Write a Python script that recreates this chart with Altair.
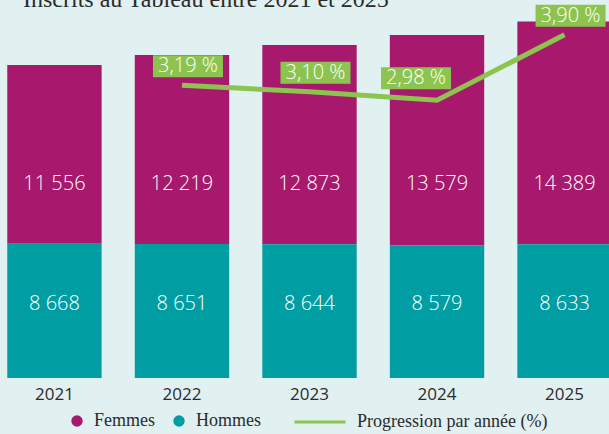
import altair as alt
import pandas as pd

# ---- data ----
years = ["2021", "2022", "2023", "2024", "2025"]
femmes = [11556, 12219, 12873, 13579, 14389]
hommes = [8668, 8651, 8644, 8579, 8633]
prog_years = ["2022", "2023", "2024", "2025"]
progression = [3.19, 3.10, 2.98, 3.90]
series = ["Femmes", "Hommes"]
line_name = "Progression par année (%)"
title_text = "Inscrits au Tableau entre 2021 et 2025"

# ---- style ----
MAGENTA = "#A6196C"
TEAL = "#009DA3"
GREEN = "#8CC44F"
BG = "#E1F0F0"
INK = "#2B2B2B"
SERIF = "Liberation Serif"
SANS = "Open Sans"
FEM_ROW = 12532   # label row (data units) for Femmes values
HOM_ROW = 4780    # label row (data units) for Hommes values

bars_df = pd.DataFrame({
    "year": years * 2,
    "genre": ["Femmes"] * len(years) + ["Hommes"] * len(years),
    "value": femmes + hommes,
    "ord": [1] * len(years) + [0] * len(years),
})
line_df = pd.DataFrame({"year": prog_years, "pct": progression, "serie": line_name})

x_enc = alt.X(
    "year:N",
    scale=alt.Scale(domain=years, range=[0, 619], paddingInner=0.26, paddingOuter=0.057),
    axis=alt.Axis(title=None, labelAngle=0, domain=False, ticks=False, grid=False,
                  labelFont=SANS, labelFontSize=17, labelFontWeight=500,
                  labelColor=INK, labelPadding=8),
)
y_scale = alt.Scale(domain=[0, 22480], nice=False, zero=True)

bars = alt.Chart(bars_df).mark_bar().encode(
    x=x_enc,
    y=alt.Y("value:Q", stack="zero", scale=y_scale, axis=None),
    color=alt.Color(
        "genre:N",
        scale=alt.Scale(domain=series, range=[MAGENTA, TEAL]),
        legend=alt.Legend(orient="none", legendX=68, legendY=382, direction="horizontal",
                          title=None, symbolType="circle", symbolSize=130,
                          symbolStrokeWidth=0, symbolOpacity=1,
                          labelFont=SERIF, labelFontSize=18, labelColor=INK,
                          labelOffset=8, columnPadding=15),
    ),
    order=alt.Order("ord:Q"),
)

bar_text = alt.Chart(bars_df).transform_calculate(
    label="replace(format(datum.value, ','), ',', ' ')",
    label_y=f"datum.genre == 'Femmes' ? {FEM_ROW} : {HOM_ROW}",
).mark_text(font=SANS, fontSize=20, fontWeight=300, color="white", baseline="middle",
            align="center").encode(
    x=x_enc,
    y=alt.Y("label_y:Q", stack=None, scale=y_scale, axis=None),
    text="label:N",
)

bar_group = alt.layer(bars, bar_text)

yl_scale = alt.Scale(domain=[-0.93, 3.968], nice=False, zero=False)

line = alt.Chart(line_df).mark_line(strokeWidth=5).encode(
    x=x_enc,
    y=alt.Y("pct:Q", scale=yl_scale, axis=None),
    stroke=alt.Stroke(
        "serie:N",
        scale=alt.Scale(domain=[line_name], range=[GREEN]),
        legend=alt.Legend(orient="none", legendX=293, legendY=365, title=None,
                          symbolType="stroke", symbolSize=2600, symbolStrokeWidth=3,
                          labelFont=SERIF, labelFontSize=18, labelColor=INK,
                          labelOffset=10, labelLimit=400),
    ),
)

BOX = "M-1,-0.314L1,-0.314L1,0.314L-1,0.314Z"

def labels(cond, dx, dy):
    base = alt.Chart(line_df).transform_filter(cond).transform_calculate(
        txt="replace(format(datum.pct, '.2f'), '.', ',') + ' %'"
    )
    box = base.mark_point(shape=BOX, size=4900, filled=True, color=GREEN, opacity=1,
                          strokeWidth=0, xOffset=dx, yOffset=dy).encode(
        x=x_enc, y=alt.Y("pct:Q", scale=yl_scale, axis=None))
    txt = base.mark_text(font=SANS, fontSize=20, fontWeight=300, color="white",
                         baseline="middle", align="center", dx=dx, dy=dy).encode(
        x=x_enc, y=alt.Y("pct:Q", scale=yl_scale, axis=None), text="txt:N")
    return [box, txt]

lab_a = labels(alt.datum.year != "2024", 6, -19)
lab_b = labels(alt.datum.year == "2024", -21, -22)

line_group = alt.layer(line, *lab_a, *lab_b)

chart = alt.layer(bar_group, line_group).resolve_scale(y="independent").properties(
    width=609,
    height=348,
    background=BG,
    padding={"left": 0, "top": 30, "right": 0, "bottom": 56},
    autosize=alt.AutoSizeParams(type="none"),
    title=alt.TitleParams(title_text, font=SERIF, fontSize=24, color=INK,
                          fontWeight="normal", anchor="start", dx=23, offset=-26,
                          baseline="alphabetic"),
).configure_view(stroke=None)

chart.save("out.html", embed_options={"renderer": "svg", "actions": False})
